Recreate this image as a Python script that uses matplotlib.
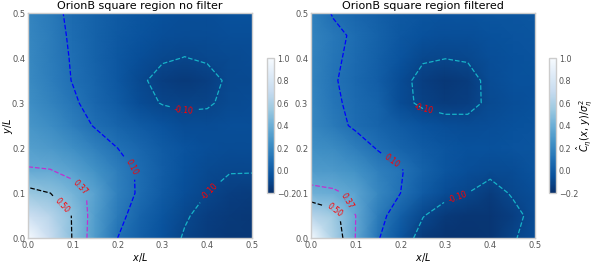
import numpy as np
import matplotlib
matplotlib.use("Agg")
import matplotlib.pyplot as plt

# grid coordinates (x/L, y/L)
xs = [0.0, 0.05, 0.1, 0.15, 0.2, 0.25, 0.3, 0.35, 0.4, 0.45, 0.5]
ys = [0.0, 0.05, 0.1, 0.15, 0.2, 0.25, 0.3, 0.35, 0.4, 0.45, 0.5]

# values, rows = y, columns = x
z_nofilter = [
    [1.00, 0.72, 0.49, 0.30, 0.10, 0.02, -0.05, -0.11, -0.14, -0.16, -0.16],
    [0.75, 0.64, 0.49, 0.31, 0.14, 0.04, -0.03, -0.09, -0.13, -0.15, -0.16],
    [0.54, 0.50, 0.43, 0.33, 0.17, 0.08, 0.00, -0.06, -0.10, -0.13, -0.14],
    [0.38, 0.375, 0.33, 0.25, 0.16, 0.08, 0.01, -0.05, -0.08, -0.095, -0.095],
    [0.32, 0.29, 0.24, 0.17, 0.10, 0.05, 0.00, -0.04, -0.06, -0.07, -0.07],
    [0.27, 0.23, 0.16, 0.09, 0.04, 0.00, -0.04, -0.07, -0.07, -0.06, -0.06],
    [0.24, 0.18, 0.12, 0.05, 0.00, -0.07, -0.105, -0.115, -0.11, -0.08, -0.07],
    [0.22, 0.16, 0.095, 0.04, -0.02, -0.085, -0.13, -0.15, -0.13, -0.085, -0.08],
    [0.21, 0.15, 0.09, 0.03, -0.02, -0.06, -0.09, -0.102, -0.09, -0.08, -0.07],
    [0.20, 0.15, 0.08, 0.03, -0.01, -0.04, -0.06, -0.07, -0.07, -0.06, -0.06],
    [0.19, 0.14, 0.07, 0.03, 0.00, -0.03, -0.05, -0.06, -0.06, -0.05, -0.05],
]

z_filtered = [
    [1.00, 0.60, 0.365, 0.11, -0.03, -0.15, -0.18, -0.18, -0.17, -0.11, -0.06],
    [0.64, 0.55, 0.37, 0.15, 0.02, -0.095, -0.15, -0.17, -0.17, -0.13, -0.07],
    [0.41, 0.39, 0.34, 0.20, 0.10, 0.00, -0.07, -0.10, -0.14, -0.09, -0.06],
    [0.30, 0.29, 0.25, 0.17, 0.11, 0.03, -0.03, -0.06, -0.075, -0.07, -0.04],
    [0.24, 0.22, 0.16, 0.09, 0.04, 0.00, -0.03, -0.05, -0.05, -0.04, -0.03],
    [0.20, 0.14, 0.08, 0.04, 0.00, -0.04, -0.06, -0.07, -0.06, -0.05, -0.04],
    [0.19, 0.12, 0.07, 0.03, -0.07, -0.12, -0.14, -0.13, -0.08, -0.06, -0.05],
    [0.18, 0.11, 0.06, 0.01, -0.07, -0.13, -0.16, -0.14, -0.07, -0.05, -0.05],
    [0.18, 0.12, 0.07, 0.02, -0.04, -0.09, -0.098, -0.09, -0.06, -0.05, -0.04],
    [0.18, 0.13, 0.08, 0.03, -0.02, -0.05, -0.06, -0.06, -0.05, -0.04, -0.03],
    [0.17, 0.09, 0.05, 0.02, -0.01, -0.03, -0.04, -0.04, -0.03, -0.03, -0.02],
]

titles = ["OrionB square region no filter", "OrionB square region filtered"]
levels = [-0.10, 0.10, 0.37, 0.50]
level_colors = ["#17b3c8", "blue", "#c030d0", "black"]
ticks = [0.0, 0.1, 0.2, 0.3, 0.4, 0.5]
cbar_ticks = [-0.2, 0.0, 0.2, 0.4, 0.6, 0.8, 1.0]

label_pos = [
    [(0.35, 0.29), (0.235, 0.16), (0.40, 0.11), (0.125, 0.12), (0.085, 0.08)],
    [(0.25, 0.28), (0.18, 0.17), (0.33, 0.085), (0.095, 0.09), (0.055, 0.065)],
]

fig = plt.figure(figsize=(5.98, 2.66), dpi=100)
ax_rects = [[0.0468, 0.105, 0.3746, 0.846], [0.520, 0.105, 0.3746, 0.846]]
cb_rects = [[0.4465, 0.2744, 0.0117, 0.5075], [0.918, 0.2744, 0.0117, 0.5075]]

X, Y = np.meshgrid(xs, ys)
gray = "#555555"
edge = "#cccccc"

for k, z in enumerate([z_nofilter, z_filtered]):
    Z = np.array(z)
    ax = fig.add_axes(ax_rects[k])
    pm = ax.pcolormesh(X, Y, Z, cmap="Blues_r", vmin=-0.2, vmax=1.0, shading="gouraud")
    cs = ax.contour(X, Y, Z, levels=levels, colors=level_colors,
                    linestyles="dashed", linewidths=0.9)
    ax.clabel(cs, inline=True, fmt="%.2f", fontsize=5.5, colors="red",
              manual=label_pos[k])
    ax.set_xlim(0, 0.5)
    ax.set_ylim(0, 0.5)
    ax.set_xticks(ticks)
    ax.set_yticks(ticks)
    ax.tick_params(length=0, labelsize=6, labelcolor=gray, pad=2)
    for s in ax.spines.values():
        s.set_color(edge)
        s.set_linewidth(1.0)
    ax.set_title(titles[k], fontsize=8, pad=3)
    ax.set_xlabel("$x/L$", fontsize=7, labelpad=1)
    if k == 0:
        ax.set_ylabel("$y/L$", fontsize=7)
        ax.yaxis.set_label_coords(-0.06, 0.5)
    cax = fig.add_axes(cb_rects[k])
    cb = fig.colorbar(pm, cax=cax, ticks=cbar_ticks)
    cb.ax.tick_params(length=0, labelsize=5.8, labelcolor=gray, pad=2)
    cb.outline.set_edgecolor(edge)
    cb.outline.set_linewidth(1.0)
    if k == 1:
        cb.set_label(r"$\hat{C}_\eta(x,\,y)/\sigma_\eta^2$", fontsize=7)
        cb.ax.yaxis.set_label_coords(3.6, 0.5)

fig.savefig("out.png", dpi=100)
